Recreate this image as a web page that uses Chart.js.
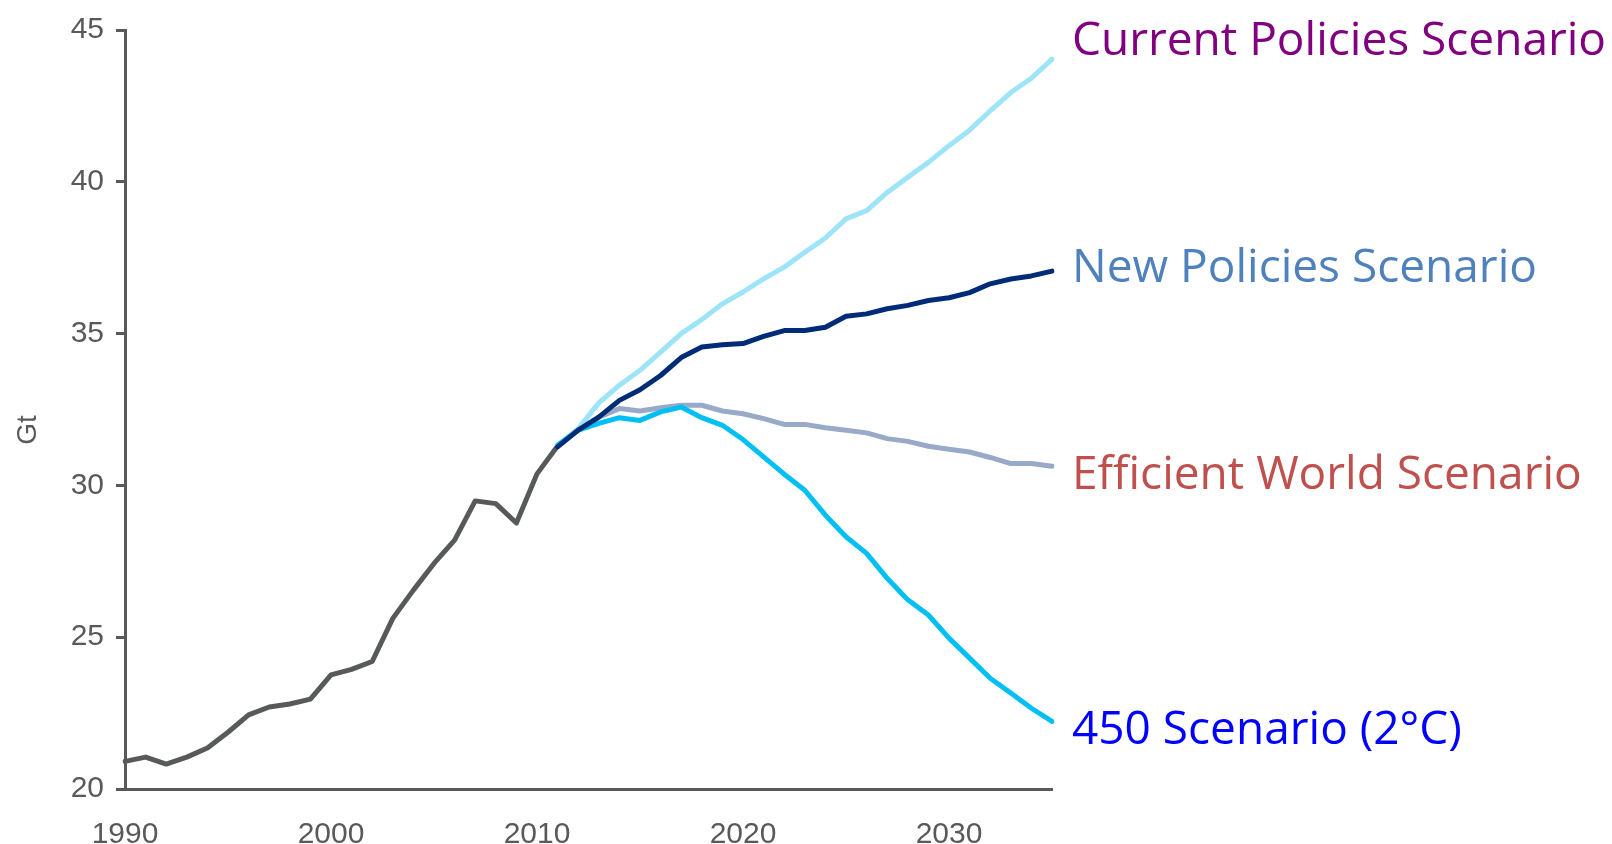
<!DOCTYPE html>
<html>
<head>
<meta charset="utf-8">
<script src="https://cdn.jsdelivr.net/npm/chart.js@4.4.1/dist/chart.umd.min.js"></script>
<style>
  html, body { margin:0; padding:0; background:#fff; }
  #wrap { width:1612px; height:844px; position:relative; }
</style>
</head>
<body>
<div id="wrap"><canvas id="chart"></canvas></div>
<script>
// ========= DATA =========
const years = [1990,1991,1992,1993,1994,1995,1996,1997,1998,1999,
               2000,2001,2002,2003,2004,2005,2006,2007,2008,2009,
               2010,2011,2012,2013,2014,2015,2016,2017,2018,2019,
               2020,2021,2022,2023,2024,2025,2026,2027,2028,2029,
               2030,2031,2032,2033,2034,2035];
const yTicks = [20,25,30,35,40,45];

// 1990-2011
const historical = [20.91,21.05,20.82,21.05,21.35,21.87,22.44,22.70,22.80,22.96,
                    23.76,23.94,24.20,25.62,26.55,27.43,28.20,29.49,29.40,28.76,
                    30.38,31.30];
// 2011-2035
const currentPolicies = [31.32,31.87,32.72,33.30,33.79,34.39,35.00,35.46,35.98,36.37,
                         36.80,37.19,37.68,38.15,38.78,39.05,39.65,40.15,40.64,41.19,
                         41.70,42.34,42.94,43.41,44.04];
const newPolicies = [31.27,31.82,32.25,32.80,33.15,33.62,34.21,34.56,34.63,34.67,
                     34.91,35.10,35.10,35.21,35.57,35.65,35.82,35.93,36.09,36.18,
                     36.35,36.64,36.80,36.90,37.06];
const efficientWorld = [31.32,31.82,32.25,32.53,32.45,32.56,32.64,32.64,32.45,32.36,
                        32.20,32.01,32.01,31.90,31.82,31.73,31.54,31.45,31.29,31.19,
                        31.10,30.92,30.72,30.72,30.63];
const scenario450 = [31.32,31.82,32.04,32.23,32.14,32.42,32.58,32.23,31.98,31.51,
                     30.94,30.37,29.84,29.02,28.31,27.76,26.94,26.23,25.73,24.97,
                     24.31,23.65,23.16,22.66,22.23];

const seriesNames = ['Current Policies Scenario','New Policies Scenario','Efficient World Scenario','450 Scenario (2°C)'];

// ========= HELPERS =========
const GREY = '#58595b';
const TICK_FONT = {family:'"Liberation Sans", Arial', size:30};
const scenStart = years.indexOf(2011);
const padHist = arr => arr.concat(Array(years.length - arr.length).fill(null));
const padScen = arr => Array(scenStart).fill(null).concat(arr);

const line = (label, data, color, order) => ({
    label, data, borderColor:color, backgroundColor:color,
    borderWidth:5, pointRadius:0, tension:0, fill:false, order,
    borderCapStyle:'round', borderJoinStyle:'round', spanGaps:false
});

// labels at right of each scenario line (baseline offset in px from line end)
const endLabels = [
    {ds:1, text:seriesNames[0], color:'#800080', dy:-4},
    {ds:2, text:seriesNames[1], color:'#4f81bd', dy:11},
    {ds:3, text:seriesNames[2], color:'#c0504d', dy:23},
    {ds:4, text:seriesNames[3], color:'#0000ff', dy:23}
];

const labelPlugin = {
    id:'endLabels',
    afterDraw(chart){
        const {ctx, chartArea, scales:{y}} = chart;
        ctx.save();
        ctx.font = '46px "Open Sans"';
        ctx.textAlign = 'left';
        ctx.textBaseline = 'alphabetic';
        endLabels.forEach(l => {
            const d = chart.data.datasets[l.ds].data;
            const py = y.getPixelForValue(d[d.length-1]) + l.dy;
            ctx.fillStyle = l.color;
            ctx.fillText(l.text, chartArea.right + 20, py);
        });
        // axis title
        ctx.translate(28, 430);
        ctx.rotate(-Math.PI/2);
        ctx.font = '28px "Liberation Sans", Arial';
        ctx.fillStyle = GREY;
        ctx.textAlign = 'center';
        ctx.textBaseline = 'middle';
        ctx.fillText('Gt', 0, 0);
        ctx.restore();
    }
};

// ========= CHART =========
const ctx = document.getElementById('chart').getContext('2d');
new Chart(ctx,{
    type:'line',
    data:{
        labels: years,
        datasets:[
            line('Historical', padHist(historical), GREY, 5),
            line(seriesNames[0], padScen(currentPolicies), '#9de4f9', 4),
            line(seriesNames[1], padScen(newPolicies), '#002c77', 1),
            line(seriesNames[2], padScen(efficientWorld), '#99a9c8', 3),
            line(seriesNames[3], padScen(scenario450), '#00c0f3', 2)
        ]
    },
    options:{
        responsive:true,
        maintainAspectRatio:false,
        animation:false,
        layout:{padding:{top:29, right:560, bottom:0, left:0}},
        plugins:{legend:{display:false}, tooltip:{enabled:false}},
        scales:{
            x:{
                offset:false,
                grid:{display:false},
                border:{display:true, color:GREY, width:3},
                ticks:{
                    autoSkip:false, maxRotation:0, padding:20,
                    color:GREY, font:TICK_FONT,
                    callback:(v,i) => years[i] % 10 === 0 ? String(years[i]) : ''
                },
                afterFit:s => { s.height = 55; }
            },
            y:{
                min:yTicks[0], max:yTicks[yTicks.length-1],
                afterBuildTicks:s => { s.ticks = yTicks.map(v => ({value:v})); },
                grid:{drawOnChartArea:false, drawTicks:true, tickLength:9, lineWidth:3, color:GREY},
                border:{display:true, color:GREY, width:3},
                ticks:{padding:12, color:GREY, font:TICK_FONT},
                afterFit:s => { s.width = 125; }
            }
        }
    },
    plugins:[labelPlugin]
});
</script>
</body>
</html>
